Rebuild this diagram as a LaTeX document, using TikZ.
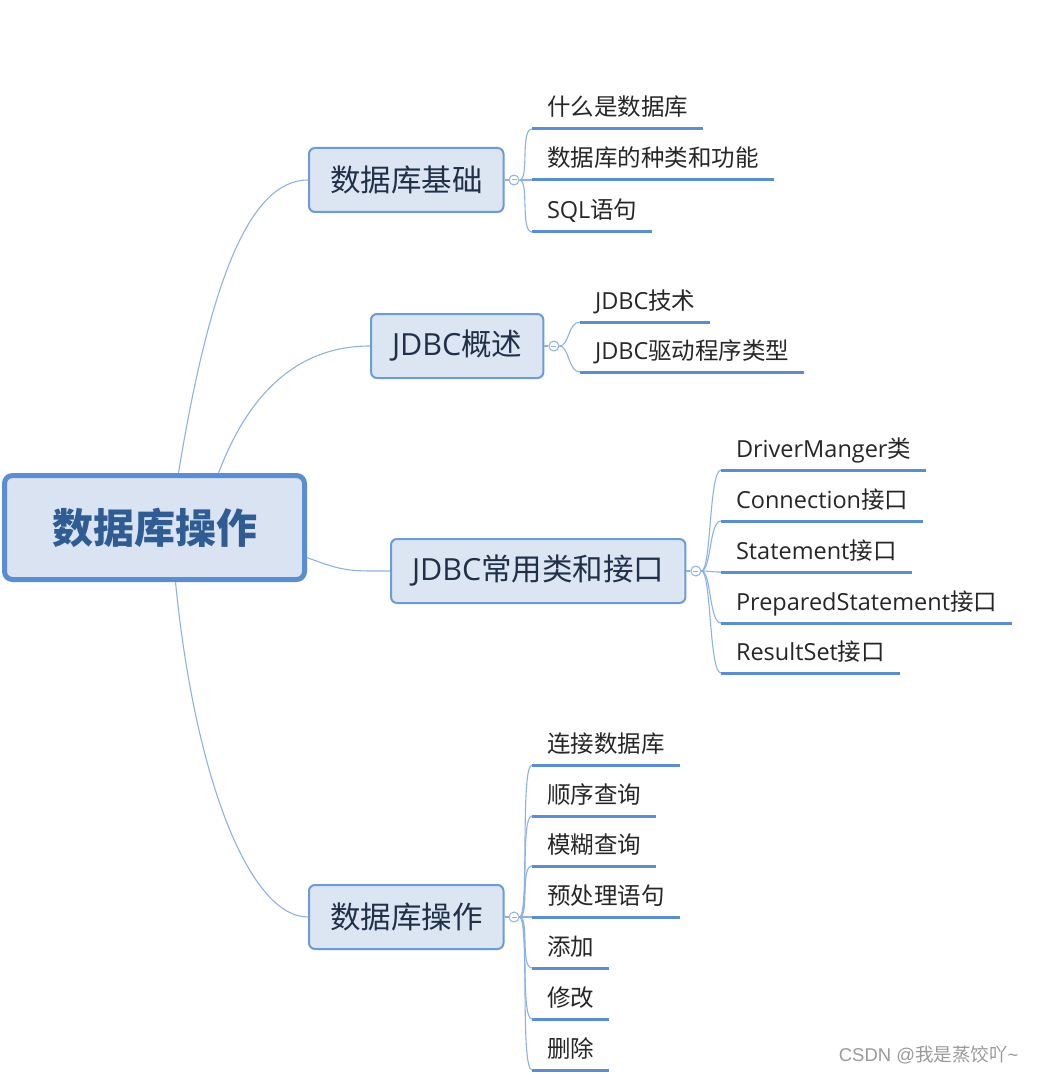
\documentclass[tikz,border=0pt]{standalone}
\usepackage{fontspec}
\setmainfont{Noto Sans CJK SC}
\newfontfamily\lat{Open Sans}
\newfontfamily\wmfont{Liberation Sans}
\usepackage{tikz}
\usetikzlibrary{positioning}
\definecolor{rootfill}{HTML}{D9E3F1}
\definecolor{rootline}{HTML}{5B8ED1}
\definecolor{rootink}{HTML}{305C94}
\definecolor{boxfill}{HTML}{DCE6F2}
\definecolor{boxline}{HTML}{6C9BD7}
\definecolor{boxink}{HTML}{1F3048}
\definecolor{twigc}{HTML}{8CB2E3}
\definecolor{stemc}{HTML}{5B8ED1}
\tikzset{
  rootbox/.style={draw=rootline, line width=5pt, fill=rootfill, rounded corners=8pt,
    minimum width=300pt, minimum height=104pt, text=rootink,
    font=\fontsize{41}{48}\selectfont\bfseries},
  topic/.style={draw=boxline, line width=2pt, fill=boxfill, rounded corners=6pt,
    minimum height=64pt, inner xsep=21pt, anchor=west, text=boxink,
    font=\fontsize{30.5}{36}\selectfont},
  fold/.style={circle, draw=twigc, line width=1pt, fill=white, minimum size=10pt, inner sep=0pt,
    path picture={\draw[twigc, line width=1pt] ([xshift=2.5pt]path picture bounding box.west)
      -- ([xshift=-2.5pt]path picture bounding box.east);}},
  leaf/.style={anchor=south west, inner xsep=15pt, inner ysep=13pt, outer sep=0pt,
    text height=17pt, text depth=0pt, text=black!85, font=\fontsize{23.5}{28}\selectfont},
  stem/.style={stemc, line width=3pt},
  twig/.style={twigc, line width=1.1pt}
}
\begin{document}
\begin{tikzpicture}[x=1pt, y=-1pt]
\useasboundingbox (0,0) rectangle (1036,1075);
% ---- centre and main topics
\node[rootbox] (root) at (154.5,527.5) {数据库操作};
\node[topic] (b1) at (308,180) {数据库基础};
\node[topic] (b2) at (370,346) {{\lat JDBC}概述};
\node[topic] (b3) at (390,571) {{\lat JDBC}常用类和接口};
\node[topic] (b4) at (308,917) {数据库操作};
\draw[twig] ([xshift=24pt]root.north) .. controls (210,280) and (250,180) .. (b1.west);
\draw[twig] ([xshift=64pt]root.north) .. controls (250,390) and (300,346) .. (b2.west);
\draw[twig] ([yshift=-30pt]root.east) .. controls (345,572) and (350,571) .. (b3.west);
\draw[twig] ([xshift=21pt]root.south) .. controls (195,780) and (250,917) .. (b4.west);
% ---- fold markers
\node[fold, right=4pt of b1] (f1) {};
\node[fold, right=4pt of b2] (f2) {};
\node[fold, right=4pt of b3] (f3) {};
\node[fold, right=4pt of b4] (f4) {};
\draw[twig] (b1.east) -- (f1.west);
\draw[twig] (b2.east) -- (f2.west);
\draw[twig] (b3.east) -- (f3.west);
\draw[twig] (b4.east) -- (f4.west);
% ---- leaves
\foreach \lname/\ltext/\ly in {l11/什么是数据库/129, l12/数据库的种类和功能/180, l13/{\lat SQL}语句/232}{
  \node[leaf] (\lname) at (532,\ly) {\ltext};
  \draw[twig] (f1.east) .. controls +(10,0) and +(-12,0) .. (\lname.south west);
  \draw[stem] (\lname.south west) -- (\lname.south east);
}
\foreach \lname/\ltext/\ly in {l21/{\lat JDBC}技术/322, l22/{\lat JDBC}驱动程序类型/372}{
  \node[leaf] (\lname) at (580,\ly) {\ltext};
  \draw[twig] (f2.east) .. controls +(10,0) and +(-12,0) .. (\lname.south west);
  \draw[stem] (\lname.south west) -- (\lname.south east);
}
\foreach \lname/\ltext/\ly in {l31/{\lat DriverManger}类/470, l32/{\lat Connection}接口/521,
    l33/{\lat Statement}接口/572, l34/{\lat PreparedStatement}接口/623, l35/{\lat ResultSet}接口/673}{
  \node[leaf] (\lname) at (721,\ly) {\ltext};
  \draw[twig] (f3.east) .. controls +(10,0) and +(-12,0) .. (\lname.south west);
  \draw[stem] (\lname.south west) -- (\lname.south east);
}
\foreach \lname/\ltext/\ly in {l41/连接数据库/765, l42/顺序查询/816, l43/模糊查询/866, l44/预处理语句/917,
    l45/添加/968, l46/修改/1019, l47/删除/1070}{
  \node[leaf] (\lname) at (532,\ly) {\ltext};
  \draw[twig] (f4.east) .. controls +(10,0) and +(-12,0) .. (\lname.south west);
  \draw[stem] (\lname.south west) -- (\lname.south east);
}
% ---- watermark
\node[anchor=east, text=black!40, font=\fontsize{18.5}{22}\selectfont] (wm) at (1022,1055)
  {{\wmfont CSDN @}我是蒸饺吖{\wmfont\textasciitilde}};
\end{tikzpicture}
\end{document}
